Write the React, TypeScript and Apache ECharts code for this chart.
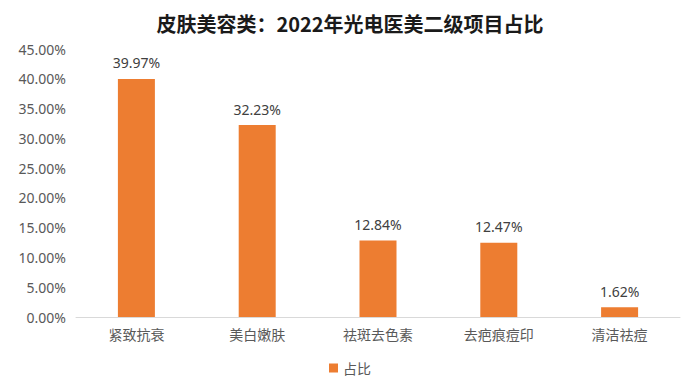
import React, { useEffect, useRef } from "react";
import * as echarts from "echarts";

const categories = ["紧致抗衰", "美白嫩肤", "祛斑去色素", "去疤痕痘印", "清洁祛痘"];
const shares = [39.97, 32.23, 12.84, 12.47, 1.62];
const seriesName = "占比";
const title = "皮肤美容类：2022年光电医美二级项目占比";

export default function App() {
  const ref = useRef<HTMLDivElement>(null);
  useEffect(() => {
    const chart = echarts.init(ref.current!, null, { renderer: "svg" });
    chart.setOption({
      animation: false,
      backgroundColor: "#ffffff",
      title: {
        text: title,
        left: "center",
        top: 0,
        textStyle: { fontSize: 20, fontWeight: "bold", color: "#1a1a1a", fontFamily: "Noto Sans CJK SC" },
      },
      legend: {
        bottom: 2,
        left: "center",
        itemWidth: 9,
        itemHeight: 9,
        icon: "rect",
        textStyle: { fontSize: 14, color: "#595959", fontFamily: "Noto Sans CJK SC" },
        data: [seriesName],
      },
      grid: { left: 68, right: 12, top: 41, bottom: 65 },
      xAxis: {
        type: "category",
        data: categories,
        axisLine: { lineStyle: { color: "#d9d9d9" } },
        axisTick: { show: false },
        axisLabel: { fontSize: 14, color: "#595959", margin: 10, fontFamily: "Noto Sans CJK SC" },
      },
      yAxis: {
        type: "value",
        min: 0,
        max: 45,
        interval: 5,
        splitLine: { show: false },
        axisLine: { show: false },
        axisTick: { show: false },
        axisLabel: {
          fontSize: 14,
          color: "#595959",
          margin: 10,
          fontFamily: "Noto Sans",
          formatter: (v: number) => v.toFixed(2) + "%",
        },
      },
      series: [
        {
          name: seriesName,
          type: "bar",
          data: shares,
          barWidth: 37,
          itemStyle: { color: "#ED7D31" },
          label: {
            show: true,
            position: "top",
            distance: 9,
            fontSize: 14,
            color: "#404040",
            fontFamily: "Noto Sans",
            formatter: (p: any) => p.value.toFixed(2) + "%",
          },
        },
      ],
    });
    return () => chart.dispose();
  }, []);
  return <div ref={ref} style={{ width: 684, height: 374 }} />;
}
